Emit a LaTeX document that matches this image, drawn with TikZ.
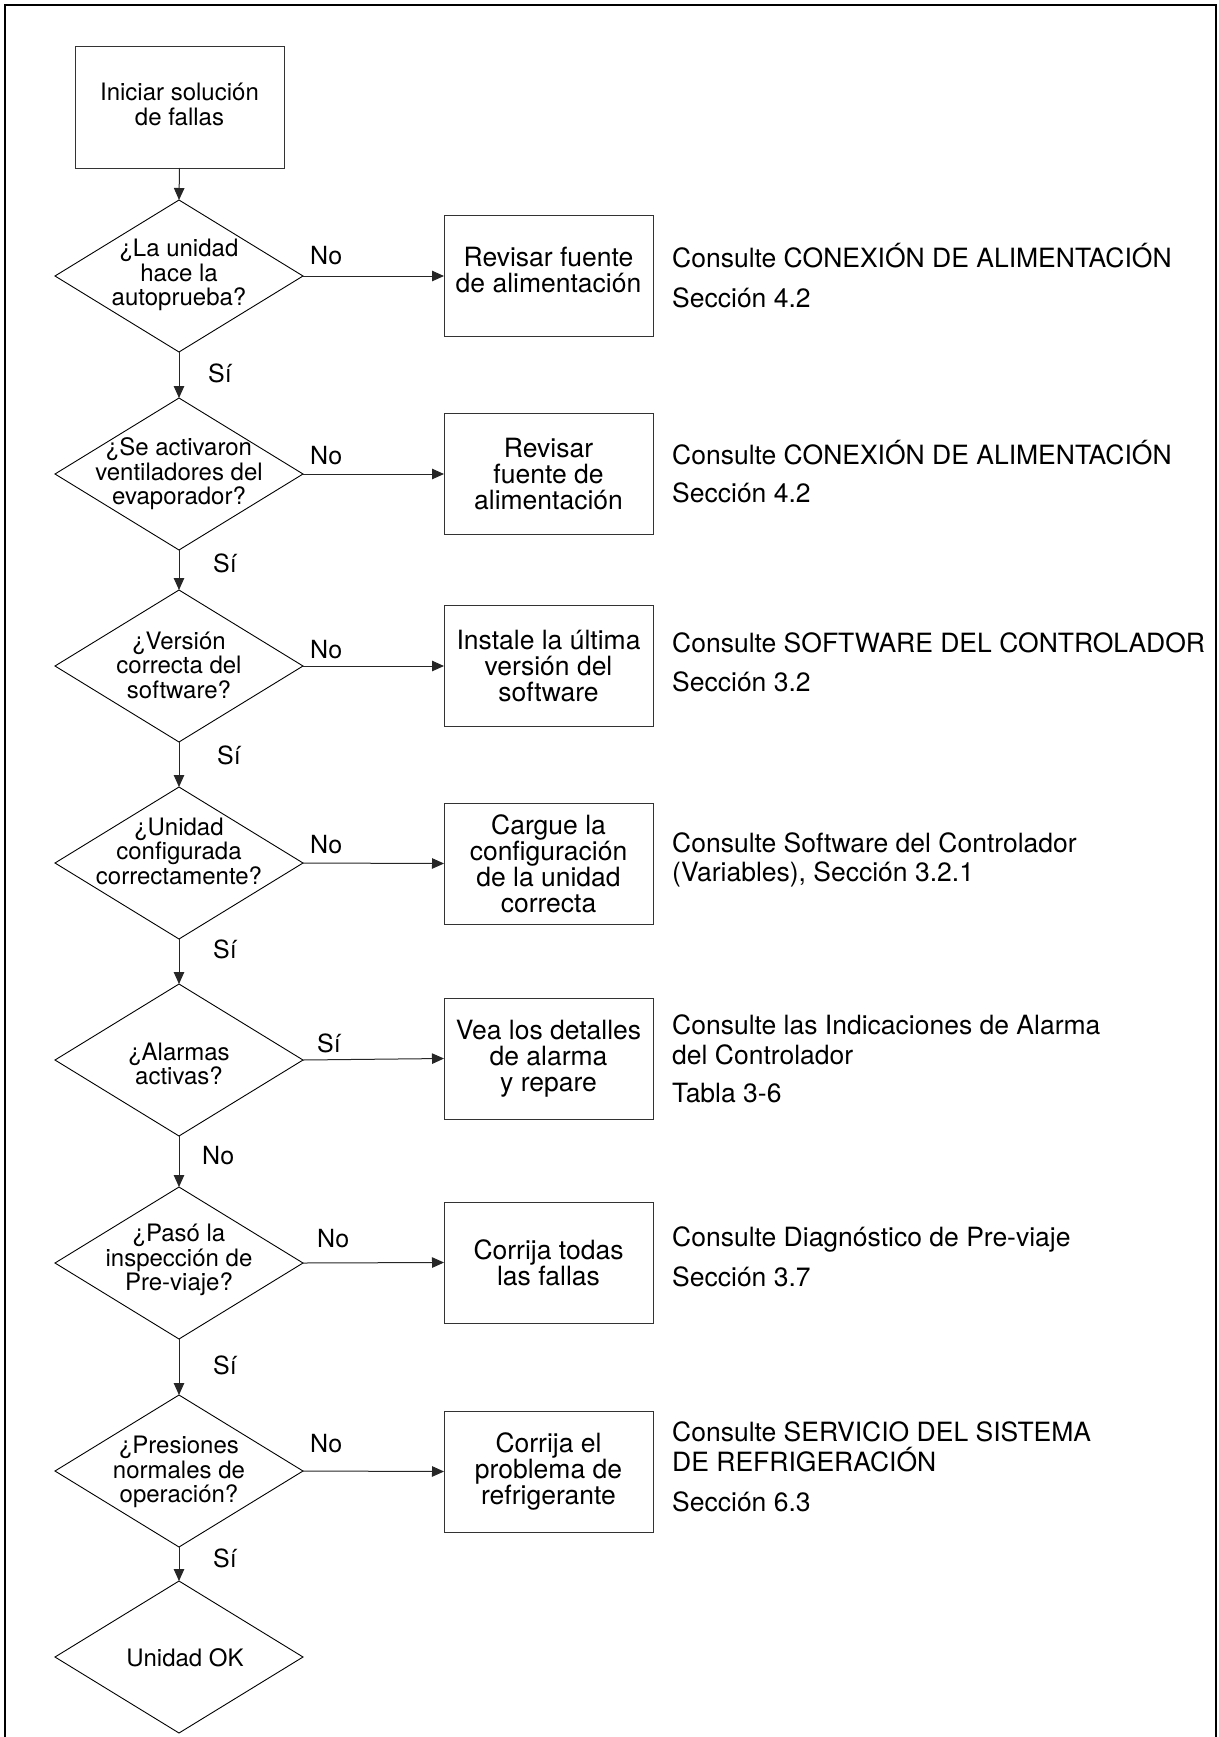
\documentclass[tikz,border=0pt]{standalone}
\usepackage{fontspec}
\setmainfont{TeX Gyre Heros}
\usetikzlibrary{shapes.geometric,arrows.meta}
\begin{document}
\begin{tikzpicture}[x=1pt,y=-1pt,
  dia/.style={diamond, draw=black, line width=0.9pt, minimum width=248pt, minimum height=152pt, inner sep=0pt, outer sep=0pt},
  dtext/.style={align=center, font=\fontsize{24}{24.5}\selectfont, inner sep=0pt},
  proc/.style={rectangle, draw=black!80, line width=1pt, minimum width=209pt, minimum height=121pt, inner sep=0pt, outer sep=0pt, align=center, font=\fontsize{26.5}{26}\selectfont},
  lbl/.style={anchor=base west, font=\fontsize{25}{25}\selectfont, inner sep=0pt},
  reftext/.style={anchor=base west, font=\fontsize{26.5}{26}\selectfont, inner sep=0pt},
  flow/.style={draw=black!85, line width=1pt, -{Triangle[length=12pt,width=10.5pt]}}
]
\useasboundingbox (0,0) rectangle (1218,1737);
% frame
\draw[line width=2pt] (5,1737) -- (5,5.5) -- (1216,5.5) -- (1216,1737);

% start
\node[proc, font=\fontsize{24}{25}\selectfont] (start) at (179.5,107.5) {Iniciar solución\\de fallas\\[-18pt]};

% diamonds
\node[dia] (d1) at (179,276) {};
\node[dtext] (t1) at (179,275) {¿La unidad\\hace la\\autoprueba?};
\node[dia] (d2) at (179,474) {};
\node[dtext] (t2) at (179,474) {¿Se activaron\\ventiladores del\\evaporador?};
\node[dia] (d3) at (179,666) {};
\node[dtext] (t3) at (179,665) {¿Versión\\correcta del\\software?};
\node[dia] (d4) at (179,863) {};
\node[dtext] (t4) at (179,851) {¿Unidad\\configurada\\correctamente?};
\node[dia] (d5) at (179,1060) {};
\node[dtext] (t5) at (179,1064) {¿Alarmas\\activas?};
\node[dia] (d6) at (179,1263) {};
\node[dtext] (t6) at (179,1260) {¿Pasó la\\inspección de\\Pre-viaje?};
\node[dia] (d7) at (179,1471) {};
\node[dtext] (t7) at (179,1472) {¿Presiones\\normales de\\operación?};
\node[dia] (d8) at (179,1657) {};
\node[dtext] (t8) at (185,1658) {Unidad OK};

% process boxes
\node[proc] (b1) at (548.5,276) {Revisar fuente\\de alimentación\\[-14pt]};
\node[proc] (b2) at (548.5,474) {Revisar\\fuente de\\alimentación};
\node[proc] (b3) at (548.5,666) {Instale la última\\versión del\\software};
\node[proc] (b4) at (548.5,863.5) {Cargue la\\configuración\\de la unidad\\correcta};
\node[proc] (b5) at (548.5,1058.5) {Vea los detalles\\de alarma\\y repare};
\node[proc] (b6) at (548.5,1262.5) {Corrija todas\\las fallas};
\node[proc] (b7) at (548.5,1471.5) {Corrija el\\problema de\\refrigerante};

% vertical flow
\draw[flow] (start.south) -- (d1.north);
\draw[flow] (d1.south) -- (d2.north);
\draw[flow] (d2.south) -- (d3.north);
\draw[flow] (d3.south) -- (d4.north);
\draw[flow] (d4.south) -- (d5.north);
\draw[flow] (d5.south) -- (d6.north);
\draw[flow] (d6.south) -- (d7.north);
\draw[flow] (d7.south) -- (d8.north);

% horizontal flow
\draw[flow] (d1.east) -- (b1.west);
\draw[flow] (d2.east) -- (b2.west);
\draw[flow] (d3.east) -- (b3.west);
\draw[flow] (d4.east) -- (b4.west);
\draw[flow] (d5.east) -- (b5.west);
\draw[flow] (d6.east) -- (b6.west);
\draw[flow] (d7.east) -- (b7.west);

% labels
\node[lbl] (n1) at (310,264) {No};
\node[lbl] (s1) at (208,382) {Sí};
\node[lbl] (n2) at (310,464) {No};
\node[lbl] (s2) at (213,572) {Sí};
\node[lbl] (n3) at (310,658) {No};
\node[lbl] (s3) at (217,764) {Sí};
\node[lbl] (n4) at (310,853) {No};
\node[lbl] (s4) at (213,958) {Sí};
\node[lbl] (s5) at (317,1052) {Sí};
\node[lbl] (n5) at (202,1164) {No};
\node[lbl] (n6) at (317,1247) {No};
\node[lbl] (s6) at (213,1374) {Sí};
\node[lbl] (n7) at (310,1452) {No};
\node[lbl] (s7) at (213,1567) {Sí};

% reference texts
\node[reftext] (r1a) at (672,267.5) {Consulte CONEXIÓN DE ALIMENTACIÓN};
\node[reftext] (r1b) at (672,307.5) {Sección 4.2};
\node[reftext] (r2a) at (672,464.5) {Consulte CONEXIÓN DE ALIMENTACIÓN};
\node[reftext] (r2b) at (672,502.5) {Sección 4.2};
\node[reftext] (r3a) at (672,652.5) {Consulte SOFTWARE DEL CONTROLADOR};
\node[reftext] (r3b) at (672,691.5) {Sección 3.2};
\node[reftext] (r4a) at (672,852.5) {Consulte Software del Controlador};
\node[reftext] (r4b) at (672,881.5) {(Variables), Sección 3.2.1};
\node[reftext] (r5a) at (672,1034.5) {Consulte las Indicaciones de Alarma};
\node[reftext] (r5b) at (672,1064.5) {del Controlador};
\node[reftext] (r5c) at (672,1102.5) {Tabla 3-6};
\node[reftext] (r6a) at (672,1246.5) {Consulte Diagnóstico de Pre-viaje};
\node[reftext] (r6b) at (672,1286.5) {Sección 3.7};
\node[reftext] (r7a) at (672,1441.5) {Consulte SERVICIO DEL SISTEMA};
\node[reftext] (r7b) at (672,1471.5) {DE REFRIGERACIÓN};
\node[reftext] (r7c) at (672,1511.5) {Sección 6.3};
\end{tikzpicture}
\end{document}
